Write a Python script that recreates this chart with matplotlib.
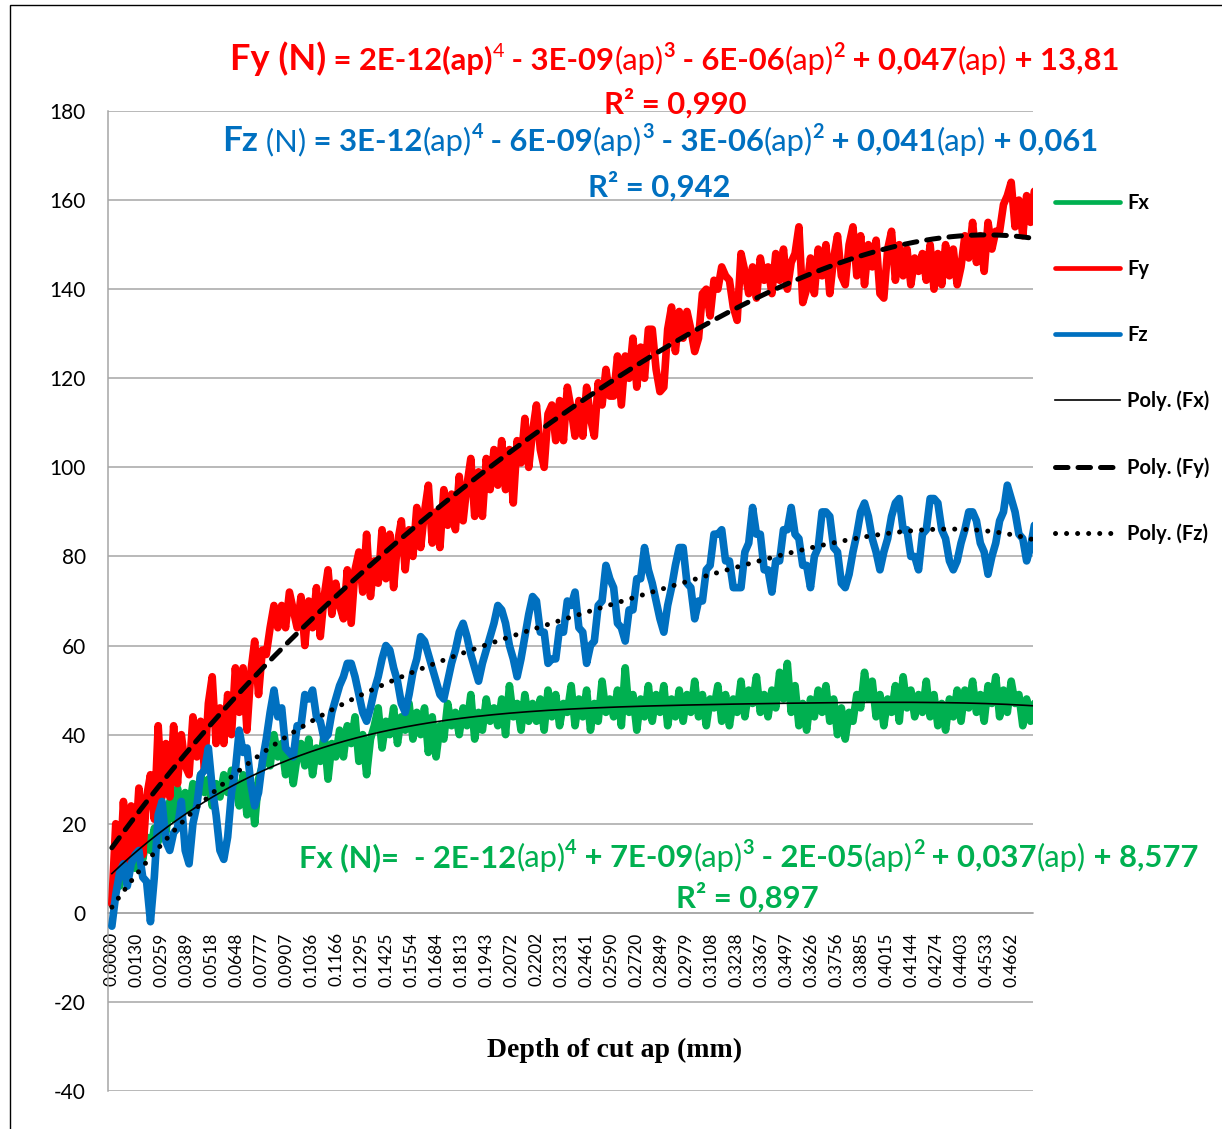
import numpy as np
import matplotlib
matplotlib.use("Agg")
import matplotlib.pyplot as plt
import matplotlib.transforms as mtransforms
from matplotlib.patches import Rectangle

W, H, DPI = 1222, 1129, 100

# depth of cut sampled every 0.002 mm (240 readings)
ap = np.arange(240) * 0.002

# forces (N), 10 readings per 0.02 mm
fx = [2, 9, 6, 12, 8, 14, 10, 15, 12, 17,
      14, 19, 16, 22, 18, 25, 21, 28, 22, 27,
      23, 29, 25, 31, 27, 30, 24, 29, 26, 31,
      27, 32, 29, 24, 31, 22, 29, 20, 30, 33,
      36, 33, 40, 35, 38, 31, 36, 29, 35, 38,
      33, 39, 31, 37, 34, 40, 30, 38, 35, 41,
      35, 42, 38, 44, 34, 40, 31, 39, 42, 46,
      37, 43, 40, 46, 38, 44, 41, 47, 39, 45,
      40, 46, 36, 44, 35, 42, 39, 47, 42, 45,
      40, 46, 42, 49, 39, 45, 41, 48, 43, 46,
      42, 48, 40, 51, 44, 47, 41, 49, 43, 47,
      43, 48, 41, 50, 44, 49, 42, 47, 45, 51,
      42, 48, 44, 50, 41, 47, 43, 52, 45, 48,
      44, 50, 42, 55, 45, 49, 41, 48, 44, 51,
      43, 49, 45, 51, 42, 48, 44, 50, 43, 49,
      45, 52, 44, 49, 42, 48, 46, 51, 43, 49,
      42, 48, 45, 52, 44, 50, 47, 53, 45, 49,
      44, 50, 46, 54, 48, 56, 45, 51, 42, 47,
      41, 48, 44, 50, 45, 51, 43, 48, 40, 46,
      39, 45, 43, 49, 46, 54, 48, 52, 44, 49,
      42, 48, 45, 51, 43, 53, 46, 50, 44, 49,
      45, 52, 44, 49, 42, 47, 41, 48, 44, 50,
      43, 50, 46, 52, 45, 49, 43, 51, 47, 53,
      44, 50, 45, 52, 47, 49, 42, 48, 43, 47]

fy = [2, 20, 8, 25, 9, 24, 14, 28, 13, 26,
      31, 21, 42, 26, 38, 26, 42, 29, 40, 33,
      31, 44, 35, 43, 32, 47, 53, 38, 46, 38,
      49, 40, 55, 45, 55, 41, 54, 61, 49, 59,
      58, 64, 69, 64, 69, 64, 72, 68, 64, 71,
      60, 70, 64, 73, 62, 71, 77, 67, 74, 69,
      66, 77, 65, 77, 81, 72, 85, 71, 79, 74,
      86, 75, 85, 73, 83, 88, 77, 86, 80, 91,
      82, 90, 96, 83, 90, 82, 95, 87, 94, 86,
      98, 88, 96, 102, 89, 99, 89, 102, 95, 104,
      96, 106, 95, 104, 92, 106, 101, 111, 100, 108,
      114, 104, 100, 112, 114, 106, 115, 106, 118, 113,
      107, 115, 107, 118, 111, 107, 119, 114, 122, 116,
      116, 125, 114, 125, 120, 129, 118, 127, 120, 131,
      131, 122, 117, 118, 131, 136, 126, 135, 129, 135,
      131, 126, 129, 139, 140, 134, 142, 140, 145, 143,
      142, 136, 133, 148, 144, 139, 145, 138, 147, 142,
      145, 139, 148, 142, 149, 140, 146, 148, 154, 137,
      140, 147, 139, 149, 143, 150, 139, 147, 152, 143,
      141, 150, 154, 143, 152, 141, 150, 145, 151, 139,
      138, 149, 153, 142, 150, 143, 149, 141, 147, 144,
      148, 142, 150, 140, 148, 141, 150, 143, 149, 141,
      145, 152, 147, 155, 146, 152, 144, 155, 149, 153,
      153, 159, 161, 164, 154, 160, 152, 161, 155, 162]

fz = [-3, 4, 9, 11, 6, 11, 13, 14, 8, 7,
      -2, 8, 22, 25, 16, 14, 18, 19, 25, 14,
      11, 20, 24, 31, 32, 37, 28, 22, 14, 12,
      17, 27, 32, 41, 36, 37, 29, 24, 27, 34,
      39, 45, 50, 44, 46, 37, 36, 35, 42, 42,
      49, 48, 50, 44, 43, 39, 40, 45, 48, 51,
      53, 56, 56, 53, 49, 45, 43, 46, 50, 53,
      57, 60, 59, 55, 52, 47, 45, 49, 54, 57,
      62, 61, 58, 55, 52, 49, 48, 52, 56, 59,
      63, 65, 62, 58, 55, 52, 56, 59, 62, 65,
      69, 68, 65, 60, 57, 53, 57, 62, 67, 71,
      70, 63, 63, 56, 57, 57, 64, 63, 70, 69,
      72, 64, 63, 56, 60, 61, 69, 70, 78, 75,
      73, 65, 64, 61, 68, 68, 75, 75, 82, 77,
      74, 70, 66, 63, 69, 73, 78, 82, 82, 74,
      73, 66, 70, 70, 77, 78, 85, 85, 86, 79,
      79, 73, 73, 73, 81, 83, 91, 85, 85, 77,
      77, 72, 79, 79, 86, 86, 91, 85, 84, 78,
      78, 73, 80, 82, 90, 90, 89, 82, 81, 74,
      73, 76, 81, 85, 90, 92, 89, 84, 81, 77,
      81, 84, 89, 92, 93, 86, 86, 80, 80, 77,
      85, 86, 93, 93, 92, 86, 84, 79, 77, 79,
      83, 86, 90, 90, 88, 83, 81, 76, 80, 83,
      88, 90, 96, 93, 90, 85, 84, 79, 82, 87]

x_labels = ["0.0000", "0.0130", "0.0259", "0.0389", "0.0518", "0.0648", "0.0777",
            "0.0907", "0.1036", "0.1166", "0.1295", "0.1425", "0.1554", "0.1684",
            "0.1813", "0.1943", "0.2072", "0.2202", "0.2331", "0.2461", "0.2590",
            "0.2720", "0.2849", "0.2979", "0.3108", "0.3238", "0.3367", "0.3497",
            "0.3626", "0.3756", "0.3885", "0.4015", "0.4144", "0.4274", "0.4403",
            "0.4533", "0.4662"]
y_ticks = [-40, -20, 0, 20, 40, 60, 80, 100, 120, 140, 160, 180]

GREEN, RED, BLUE = "#00B050", "#FF0000", "#0070C0"
GRID = "#A6A6A6"

plt.rcParams["font.family"] = ["Lato", "DejaVu Sans"]
plt.rcParams["axes.unicode_minus"] = False

fig = plt.figure(figsize=(W / DPI, H / DPI), dpi=DPI)
ax = fig.add_axes([108 / W, 38 / H, (1033 - 108) / W, (1091 - 111) / H])

line_kw = dict(lw=5.5, solid_joinstyle="round", solid_capstyle="round")
ax.plot(ap, fx, color=GREEN, label="Fx", zorder=2, **line_kw)
ax.plot(ap, fy, color=RED, label="Fy", zorder=3, **line_kw)
ax.plot(ap, fz, color=BLUE, label="Fz", zorder=4, **line_kw)

# 4th order polynomial trend lines, like Excel
fine = np.linspace(ap[0], ap[-1], 500)
ax.plot(fine, np.polyval(np.polyfit(ap, fx, 4), fine), color="black", lw=1.2,
        label="Poly. (Fx)", zorder=5)
ax.plot(fine, np.polyval(np.polyfit(ap, fy, 4), fine), color="black", lw=3.6,
        dashes=(2.5, 2.0), dash_capstyle="round", label="Poly. (Fy)", zorder=5)
ax.plot(fine, np.polyval(np.polyfit(ap, fz, 4), fine), color="black", lw=3.6,
        dashes=(0.01, 2.2), dash_capstyle="round", label="Poly. (Fz)", zorder=5)

ax.set_xlim(-0.002, 0.4773)
ax.set_ylim(-40, 180)
ax.set_yticks(y_ticks)
ax.set_yticklabels([str(v) for v in y_ticks])
ax.set_xticks([float(s) for s in x_labels])
ax.set_xticklabels(x_labels)
ax.tick_params(axis="both", length=0)
ax.tick_params(axis="y", pad=16, labelsize=15)
ax.tick_params(axis="x", pad=14, labelsize=12.5, labelrotation=90)
ax.yaxis.grid(True, color=GRID, lw=1.1)
ax.set_axisbelow(True)
for side in ("top", "right"):
    ax.spines[side].set_visible(False)
ax.spines["left"].set_color(GRID)
ax.spines["left"].set_linewidth(1.1)
ax.spines["bottom"].set_position(("data", 0))
ax.spines["bottom"].set_color(GRID)
ax.spines["bottom"].set_linewidth(1.1)

fig.text(615 / W, 1 - 1050 / H, "Depth of cut ap (mm)", family="Liberation Serif",
         weight="bold", fontsize=20, ha="center", va="center")

leg = fig.legend(loc="upper left", bbox_to_anchor=(1055 / W, 1 - 193 / H), frameon=False,
                 prop={"weight": "bold", "size": 14.5}, handlelength=3.23, handletextpad=0.35,
                 labelspacing=2.28, borderpad=0, borderaxespad=0)
for h in leg.get_lines()[:3]:
    h.set_linewidth(3.4)


def eq_line(x_px, base_px, pieces, color, size):
    # equation with mixed weights/sizes, pieces laid one after another
    renderer = fig.canvas.get_renderer()
    shift = 0.0
    for text, scale, bold, sup in pieces:
        fs = size * scale * (0.64 if sup else 1.0)
        rise = size * 0.42 if sup else 0.0
        tr = mtransforms.offset_copy(fig.transFigure, fig=fig, x=shift, y=rise, units="points")
        t = fig.text(x_px / W, 1 - base_px / H, text, transform=tr, fontsize=fs,
                     fontweight="bold" if bold else "normal", color=color, va="baseline")
        shift += t.get_window_extent(renderer).width * 72 / DPI


EQ = 22.3
eq_line(230, 70, [("Fy (N)", 1.17, True, False), (" = 2E-12(ap)", 1, True, False),
                  ("4", 1, False, True), (" - 3E-09", 1, True, False), ("(ap)", 1, False, False),
                  ("3", 1, True, True), (" - 6E-06", 1, True, False), ("(ap)", 1, False, False),
                  ("2", 1, True, True), (" + 0,047", 1, True, False), ("(ap)", 1, False, False),
                  (" + 13,81", 1, True, False)], RED, EQ)
fig.text(675 / W, 1 - 114 / H, "R² = 0,990", color=RED, fontsize=EQ, weight="bold",
         ha="center", va="baseline")

eq_line(222, 151, [("Fz", 1.13, True, False), (" (N)", 1.0, False, False),
                   (" = 3E-12", 1, True, False), ("(ap)", 1, False, False), ("4", 1, True, True),
                   (" - 6E-09", 1, True, False), ("(ap)", 1, False, False), ("3", 1, True, True),
                   (" - 3E-06", 1, True, False), ("(ap)", 1, False, False), ("2", 1, True, True),
                   (" + 0,041", 1, True, False), ("(ap)", 1, False, False),
                   (" + 0,061", 1, True, False)], BLUE, EQ)
fig.text(659 / W, 1 - 197 / H, "R² = 0,942", color=BLUE, fontsize=EQ, weight="bold",
         ha="center", va="baseline")

eq_line(299, 867, [("Fx (N)=  - 2E-12", 1, True, False), ("(ap)", 1, False, False),
                   ("4", 1, True, True), (" + 7E-09", 1, True, False), ("(ap)", 1, False, False),
                   ("3", 1, True, True), (" - 2E-05", 1, True, False), ("(ap)", 1, False, False),
                   ("2", 1, True, True), (" + 0,037", 1, True, False), ("(ap)", 1, False, False),
                   (" + 8,577", 1, True, False)], GREEN, EQ)
fig.text(747 / W, 1 - 908 / H, "R² = 0,897", color=GREEN, fontsize=EQ, weight="bold",
         ha="center", va="baseline")

# chart frame
fig.add_artist(Rectangle((10 / W, -0.05), 1.1, 1.05 - 5 / H, transform=fig.transFigure,
                         fill=False, ec="black", lw=1, clip_on=False))

fig.savefig("out.png", dpi=DPI)
